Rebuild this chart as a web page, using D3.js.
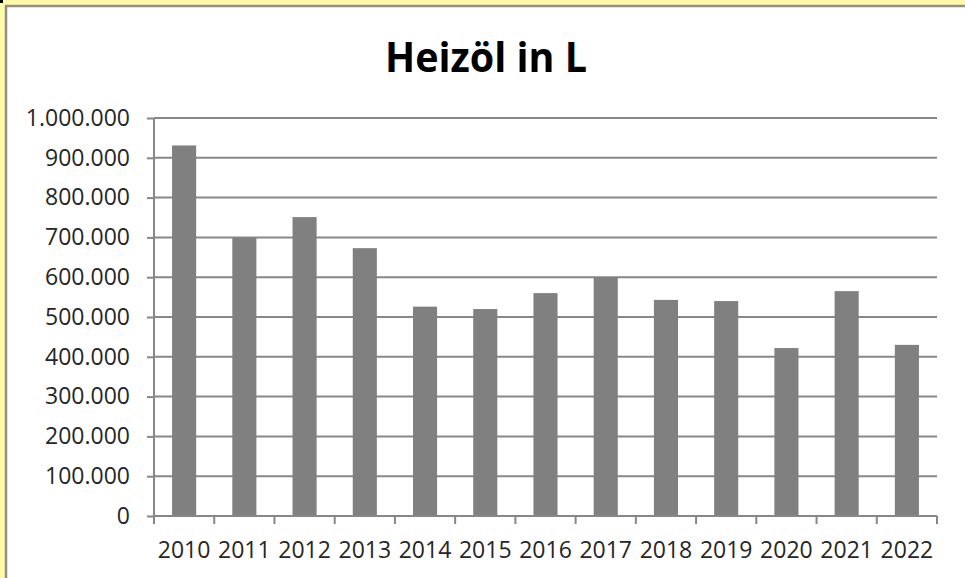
<!DOCTYPE html>
<html>
<head>
<meta charset="utf-8">
<title>Heizöl in L</title>
<script src="https://cdn.jsdelivr.net/npm/d3@7"></script>
<style>
  body { margin: 0; background: #fffaa6; }
  svg { display: block; }
  text { font-family: "Open Sans", sans-serif; }
</style>
</head>
<body>
<script>
  // Werte
  var years = ["2010", "2011", "2012", "2013", "2014", "2015", "2016",
               "2017", "2018", "2019", "2020", "2021", "2022"];
  var litres = [931000, 699000, 751000, 673000, 526000, 520000, 560000,
                600000, 543000, 540000, 422000, 565000, 430000];
  var yTicks = [0, 100000, 200000, 300000, 400000, 500000, 600000,
                700000, 800000, 900000, 1000000];

  var width = 965, height = 578;
  var plotLeft = 154, plotRight = 937, plotTop = 118, plotBottom = 516;

  var svg = d3.select("body").append("svg")
      .attr("width", width)
      .attr("height", height);

  // weisse Diagrammfläche mit grauem Rand oben/links
  svg.append("rect")
      .attr("x", 5).attr("y", 5)
      .attr("width", width).attr("height", height)
      .attr("fill", "#ffffff");
  svg.append("path")
      .attr("d", "M6," + height + "V6H" + width)
      .attr("fill", "none")
      .attr("stroke", "#8f8f8f")
      .attr("stroke-width", 2.5);
  svg.append("rect")
      .attr("x", 0).attr("y", 0).attr("width", 3).attr("height", 3)
      .attr("fill", "#000");

  var x = d3.scaleBand().domain(years).range([plotLeft, plotRight])
      .paddingInner(0.6).paddingOuter(0.3);
  var y = d3.scaleLinear().domain([0, 1000000]).range([plotBottom, plotTop]);

  var fmt = function(v) { return d3.format(",")(v).replace(/,/g, "."); };

  // Gitterlinien
  svg.append("g").selectAll("line")
      .data(yTicks)
      .enter().append("line")
      .attr("x1", plotLeft).attr("x2", plotRight)
      .attr("y1", function(d) { return y(d); })
      .attr("y2", function(d) { return y(d); })
      .attr("stroke", "#878787")
      .attr("stroke-width", 2);

  // Balken
  svg.append("g").selectAll("rect")
      .data(litres)
      .enter().append("rect")
      .attr("x", function(d, i) { return x(years[i]); })
      .attr("y", function(d) { return y(d); })
      .attr("width", x.bandwidth())
      .attr("height", function(d) { return plotBottom - y(d); })
      .attr("fill", "#808080");

  // Y-Achse
  var yAxis = svg.append("g")
      .attr("transform", "translate(" + plotLeft + ",0)")
      .call(d3.axisLeft(y).tickValues(yTicks).tickFormat(fmt)
            .tickSize(7).tickPadding(17));
  yAxis.select(".domain").attr("stroke", "#878787").attr("stroke-width", 2)
      .attr("d", "M0," + plotTop + "V" + plotBottom);
  yAxis.selectAll(".tick line").attr("stroke", "#878787").attr("stroke-width", 2);
  yAxis.selectAll("text")
      .attr("font-family", null).attr("font-size", null)
      .style("font-size", "23px")
      .style("fill", "#262626");

  // X-Achse: Striche an den Kategoriegrenzen
  var step = x.step();
  var bounds = d3.range(years.length + 1).map(function(i) { return plotLeft + i * step; });
  var xg = svg.append("g");
  xg.append("line")
      .attr("x1", plotLeft).attr("x2", plotRight)
      .attr("y1", plotBottom).attr("y2", plotBottom)
      .attr("stroke", "#878787").attr("stroke-width", 2);
  xg.selectAll("line.tick")
      .data(bounds)
      .enter().append("line")
      .attr("class", "tick")
      .attr("x1", function(d) { return d; }).attr("x2", function(d) { return d; })
      .attr("y1", plotBottom).attr("y2", plotBottom + 8)
      .attr("stroke", "#878787").attr("stroke-width", 2);
  xg.selectAll("text")
      .data(years)
      .enter().append("text")
      .attr("x", function(d) { return x(d) + x.bandwidth() / 2; })
      .attr("y", 558)
      .attr("text-anchor", "middle")
      .style("font-size", "23px")
      .style("fill", "#262626")
      .text(function(d) { return d; });

  // Titel
  svg.append("text")
      .attr("x", 486).attr("y", 72)
      .attr("text-anchor", "middle")
      .style("font-size", "42px")
      .style("font-weight", "bold")
      .style("fill", "#000")
      .attr("textLength", 202)
      .attr("lengthAdjust", "spacingAndGlyphs")
      .text("Heizöl in L");
</script>
</body>
</html>
